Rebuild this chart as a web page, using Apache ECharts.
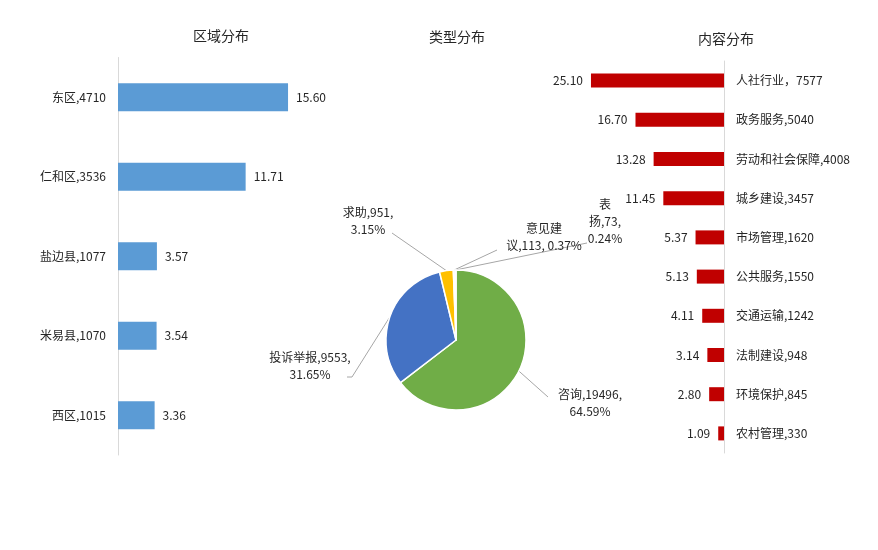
<!DOCTYPE html>
<html>
<head>
<meta charset="utf-8">
<script src="https://cdn.jsdelivr.net/npm/echarts@6/dist/echarts.min.js"></script>
<style>
  html, body { margin: 0; padding: 0; background: #fff; }
  #chart { width: 878px; height: 550px; }
</style>
</head>
<body>
<div id="chart"></div>
<script>
// Region distribution (left)
const regionNames = ['东区', '仁和区', '盐边县', '米易县', '西区'];
const regionCounts = [4710, 3536, 1077, 1070, 1015];
const regionPercents = [15.60, 11.71, 3.57, 3.54, 3.36];

// Type distribution (middle pie)
const typeNames = ['咨询', '投诉举报', '求助', '意见建议', '表扬'];
const typeCounts = [19496, 9553, 951, 113, 73];

// Content distribution (right)
const contentNames = ['人社行业', '政务服务', '劳动和社会保障', '城乡建设', '市场管理',
  '公共服务', '交通运输', '法制建设', '环境保护', '农村管理'];
const contentCounts = [7577, 5040, 4008, 3457, 1620, 1550, 1242, 948, 845, 330];
const contentPercents = [25.10, 16.70, 13.28, 11.45, 5.37, 5.13, 4.11, 3.14, 2.80, 1.09];

const font = '"Noto Sans CJK SC", "Microsoft YaHei", sans-serif';
const textColor = '#262626';

const regionLabels = regionNames.map((n, i) => n + ',' + regionCounts[i]);
// first item uses a full-width comma in the original
const contentLabels = contentNames.map((n, i) => n + (i === 0 ? '，' : ',') + contentCounts[i]);

// label placement for the pie, by slice index (text centre + leader line end)
const pieLabelPos = [
  { x: 590, y: 403, line: [[548, 397]] },
  { x: 310, y: 366, line: [[352, 377], [347, 377]] },
  { x: 368, y: 221, line: [[392, 233]] },
  { x: 544, y: 237, line: [[497, 250]] },
  { x: 605, y: 221, line: [[587, 243]] }
];

function pieLabelText(p) {
  const pct = p.percent.toFixed(2) + '%';
  if (p.name === '意见建议') return '意见建\n议,' + p.value + ', ' + pct;
  if (p.name === '表扬') return '表\n扬,' + p.value + ',\n' + pct;
  return p.name + ',' + p.value + ',\n' + pct;
}

const chart = echarts.init(document.getElementById('chart'));

const titleStyle = { fontFamily: font, fontSize: 14, fontWeight: 'normal', color: textColor };

chart.setOption({
  animation: false,
  textStyle: { fontFamily: font },
  title: [
    { text: '区域分布', left: 216, top: 24, textAlign: 'center', textStyle: titleStyle },
    { text: '类型分布', left: 452, top: 25, textAlign: 'center', textStyle: titleStyle },
    { text: '内容分布', left: 721, top: 27, textAlign: 'center', textStyle: titleStyle }
  ],
  grid: [
    { left: 118, top: 57.5, width: 218, height: 397.5 },
    { left: 565, top: 61, width: 159, height: 392 }
  ],
  xAxis: [
    { gridIndex: 0, type: 'value', min: 0, max: 20, show: false },
    { gridIndex: 1, type: 'value', min: 0, max: 30, inverse: true, show: false }
  ],
  yAxis: [
    {
      gridIndex: 0, type: 'category', data: regionLabels, inverse: true,
      axisLine: { lineStyle: { color: '#d9d9d9' } },
      axisTick: { show: false },
      axisLabel: { margin: 12, fontSize: 12, color: textColor, fontFamily: font }
    },
    {
      gridIndex: 1, type: 'category', data: contentLabels, inverse: true, position: 'right',
      axisLine: { lineStyle: { color: '#d9d9d9' } },
      axisTick: { show: false },
      axisLabel: { margin: 12, fontSize: 12, color: textColor, fontFamily: font }
    }
  ],
  series: [
    {
      type: 'bar', xAxisIndex: 0, yAxisIndex: 0,
      data: regionPercents, barWidth: 28,
      itemStyle: { color: '#5b9bd5' },
      label: {
        show: true, position: 'right', distance: 8, fontSize: 12, color: textColor,
        formatter: p => p.value.toFixed(2)
      }
    },
    {
      type: 'bar', xAxisIndex: 1, yAxisIndex: 1,
      data: contentPercents, barWidth: 14,
      itemStyle: { color: '#c00000' },
      label: {
        show: true, position: 'left', distance: 8, fontSize: 12, color: textColor,
        formatter: p => p.value.toFixed(2)
      }
    },
    {
      type: 'pie',
      center: [456, 340],
      radius: 70,
      startAngle: 90,
      clockwise: true,
      data: typeNames.map((n, i) => ({ name: n, value: typeCounts[i] })),
      color: ['#70ad47', '#4472c4', '#ffc000', '#5b9bd5', '#a5a5a5'],
      itemStyle: { borderColor: '#fff', borderWidth: 1.5 },
      label: {
        show: true, fontSize: 12, lineHeight: 17, color: textColor, align: 'center',
        formatter: pieLabelText
      },
      labelLine: { show: true, lineStyle: { color: '#a6a6a6', width: 1 } },
      labelLayout: function (params) {
        const pos = pieLabelPos[params.dataIndex];
        const start = params.labelLinePoints ? params.labelLinePoints[0] : null;
        const out = { x: pos.x, y: pos.y, align: 'center', verticalAlign: 'middle' };
        if (start) out.labelLinePoints = [start].concat(pos.line);
        return out;
      }
    }
  ]
});
</script>
</body>
</html>
